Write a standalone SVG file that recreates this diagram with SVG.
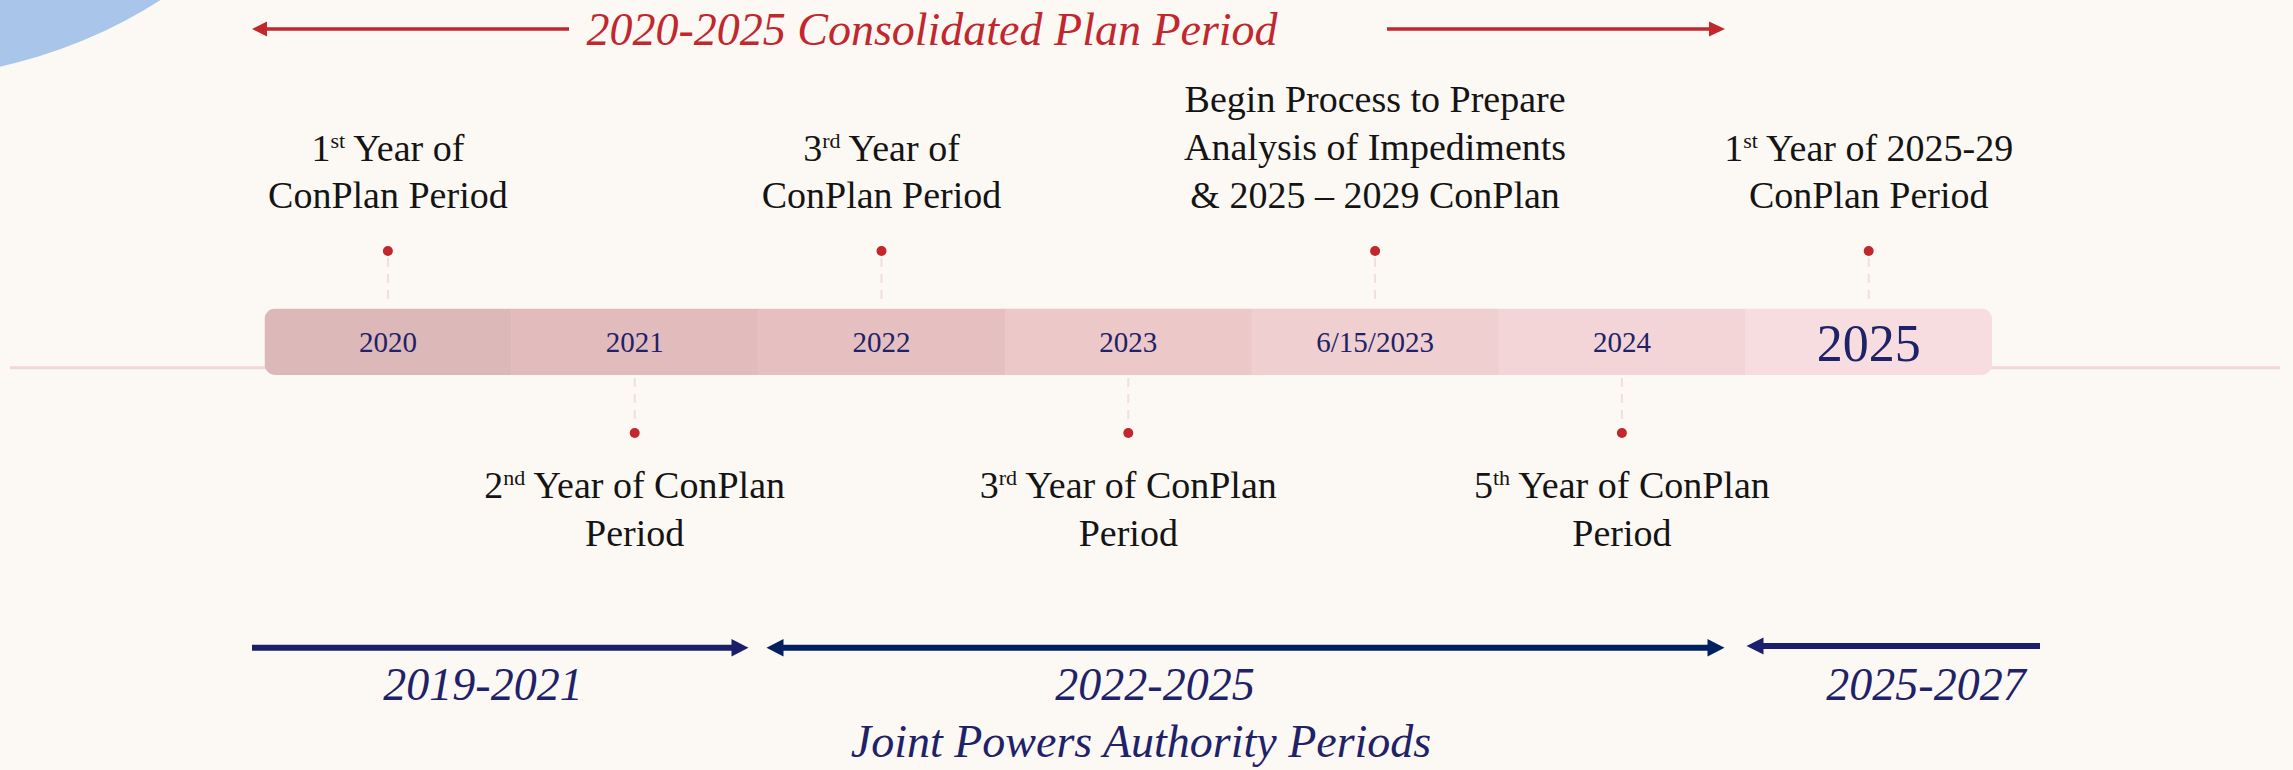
<svg xmlns="http://www.w3.org/2000/svg" width="2293" height="770" viewBox="0 0 2293 770">
<defs>
<style>
.lbl{font-family:"Liberation Serif","Times New Roman",serif;font-size:38px;fill:#141414;text-anchor:middle}
.sup{font-size:22px}
.yr{font-family:"Liberation Serif","Times New Roman",serif;font-size:29px;fill:#1F2268;text-anchor:middle}
.ital{font-family:"Liberation Serif","Times New Roman",serif;font-style:italic;font-size:46px;text-anchor:middle}
.dash{stroke:#F2DEDF;stroke-width:2;stroke-dasharray:9 7;fill:none}
.dot{fill:#C1272D}
</style>
<clipPath id="barclip"><rect x="264.5" y="308.5" width="1727.6" height="66.5" rx="11" ry="11"/></clipPath>
</defs>
<rect width="2293" height="770" fill="#FCF9F5"/>
<circle cx="-105" cy="-413" r="491" fill="#A9C5EA"/>
<line x1="10" y1="367.7" x2="2280" y2="367.7" stroke="#F2D6D8" stroke-width="3"/>

<g id="connectors">
  <g id="title-arrows">
    <line x1="266" y1="29" x2="569" y2="29" stroke="#C1272D" stroke-width="3.5"/>
    <polygon points="252,29 267,21.5 267,36.5" fill="#C1272D"/>
    <line x1="1387" y1="29" x2="1711" y2="29" stroke="#C1272D" stroke-width="3.5"/>
    <polygon points="1725,29 1709,21.5 1709,36.5" fill="#C1272D"/>
  </g>
  <g id="top-ticks">
    <line class="dash" x1="387.9" y1="258" x2="387.9" y2="306"/>
    <line class="dash" x1="881.5" y1="258" x2="881.5" y2="306"/>
    <line class="dash" x1="1375.1" y1="258" x2="1375.1" y2="306"/>
    <line class="dash" x1="1868.7" y1="258" x2="1868.7" y2="306"/>
  </g>
  <g id="bottom-ticks">
    <line class="dash" x1="634.7" y1="378" x2="634.7" y2="426"/>
    <line class="dash" x1="1128.3" y1="378" x2="1128.3" y2="426"/>
    <line class="dash" x1="1621.9" y1="378" x2="1621.9" y2="426"/>
  </g>
  <g id="jpa-arrows">
    <line x1="252" y1="647.7" x2="733" y2="647.7" stroke="#1B1F69" stroke-width="6"/>
    <polygon points="748.5,647.7 731.5,639 731.5,656.5" fill="#1B1F69"/>
    <line x1="782" y1="647.7" x2="1709" y2="647.7" stroke="#002060" stroke-width="6"/>
    <polygon points="766.5,647.7 783.5,639 783.5,656.5" fill="#002060"/>
    <polygon points="1724.5,647.7 1707.5,639 1707.5,656.5" fill="#002060"/>
    <line x1="1762" y1="646" x2="2040" y2="646" stroke="#1C1F6B" stroke-width="6"/>
    <polygon points="1746.5,646 1763.5,637.5 1763.5,654.5" fill="#1C1F6B"/>
  </g>
</g>

<g id="bar" clip-path="url(#barclip)">
  <g id="seg-2020"><rect x="264.5" y="308.5" width="247.3" height="66.5" fill="#DDB8B9"/><text class="yr" x="387.9" y="351.7">2020</text></g>
  <g id="seg-2021"><rect x="511.3" y="308.5" width="247.3" height="66.5" fill="#E2BBBD"/><text class="yr" x="634.7" y="351.7">2021</text></g>
  <g id="seg-2022"><rect x="758.1" y="308.5" width="247.3" height="66.5" fill="#E6C0C1"/><text class="yr" x="881.5" y="351.7">2022</text></g>
  <g id="seg-2023"><rect x="1004.9" y="308.5" width="247.3" height="66.5" fill="#ECC8C9"/><text class="yr" x="1128.3" y="351.7">2023</text></g>
  <g id="seg-61523"><rect x="1251.7" y="308.5" width="247.3" height="66.5" fill="#EFCFD0"/><text class="yr" x="1375.1" y="351.7">6/15/2023</text></g>
  <g id="seg-2024"><rect x="1498.5" y="308.5" width="247.3" height="66.5" fill="#F3D5D7"/><text class="yr" x="1621.9" y="351.7">2024</text></g>
  <g id="seg-2025"><rect x="1745.3" y="308.5" width="246.8" height="66.5" fill="#F8DDE0"/><text class="yr" x="1868.7" y="360.7" style="font-size:52px">2025</text></g>
</g>

<g id="title"><text class="ital" x="932" y="45" fill="#C1272D">2020-2025 Consolidated Plan Period</text></g>

<g id="m-2020">
  <circle class="dot" cx="387.9" cy="251" r="5"/>
  <text class="lbl" x="387.9" y="160.5"><tspan>1</tspan><tspan class="sup" dy="-13">st</tspan><tspan dy="13"> Year of</tspan></text>
  <text class="lbl" x="387.9" y="208.3">ConPlan Period</text>
</g>
<g id="m-2022">
  <circle class="dot" cx="881.5" cy="251" r="5"/>
  <text class="lbl" x="881.5" y="160.5"><tspan>3</tspan><tspan class="sup" dy="-13">rd</tspan><tspan dy="13"> Year of</tspan></text>
  <text class="lbl" x="881.5" y="208.3">ConPlan Period</text>
</g>
<g id="m-61523">
  <circle class="dot" cx="1375.1" cy="251" r="5"/>
  <text class="lbl" x="1375.1" y="111.5">Begin Process to Prepare</text>
  <text class="lbl" x="1375.1" y="160">Analysis of Impediments</text>
  <text class="lbl" x="1375.1" y="208.3">&amp; 2025 – 2029 ConPlan</text>
</g>
<g id="m-2025">
  <circle class="dot" cx="1868.7" cy="251" r="5"/>
  <text class="lbl" x="1868.7" y="160.5"><tspan>1</tspan><tspan class="sup" dy="-13">st</tspan><tspan dy="13"> Year of 2025-29</tspan></text>
  <text class="lbl" x="1868.7" y="208.3">ConPlan Period</text>
</g>
<g id="m-2021">
  <circle class="dot" cx="634.7" cy="433" r="5"/>
  <text class="lbl" x="634.7" y="498.3"><tspan>2</tspan><tspan class="sup" dy="-13">nd</tspan><tspan dy="13"> Year of ConPlan</tspan></text>
  <text class="lbl" x="634.7" y="545.7">Period</text>
</g>
<g id="m-2023">
  <circle class="dot" cx="1128.3" cy="433" r="5"/>
  <text class="lbl" x="1128.3" y="498.3"><tspan>3</tspan><tspan class="sup" dy="-13">rd</tspan><tspan dy="13"> Year of ConPlan</tspan></text>
  <text class="lbl" x="1128.3" y="545.7">Period</text>
</g>
<g id="m-2024">
  <circle class="dot" cx="1621.9" cy="433" r="5"/>
  <text class="lbl" x="1621.9" y="498.3"><tspan>5</tspan><tspan class="sup" dy="-13">th</tspan><tspan dy="13"> Year of ConPlan</tspan></text>
  <text class="lbl" x="1621.9" y="545.7">Period</text>
</g>

<g id="jpa-labels" fill="#1F2268">
  <text class="ital" x="483" y="700" fill="#1F2268">2019-2021</text>
  <text class="ital" x="1155" y="700" fill="#1F2268">2022-2025</text>
  <text class="ital" x="1926" y="700" fill="#1F2268">2025-2027</text>
  <text class="ital" x="1141" y="757" fill="#1F2268">Joint Powers Authority Periods</text>
</g>
</svg>
